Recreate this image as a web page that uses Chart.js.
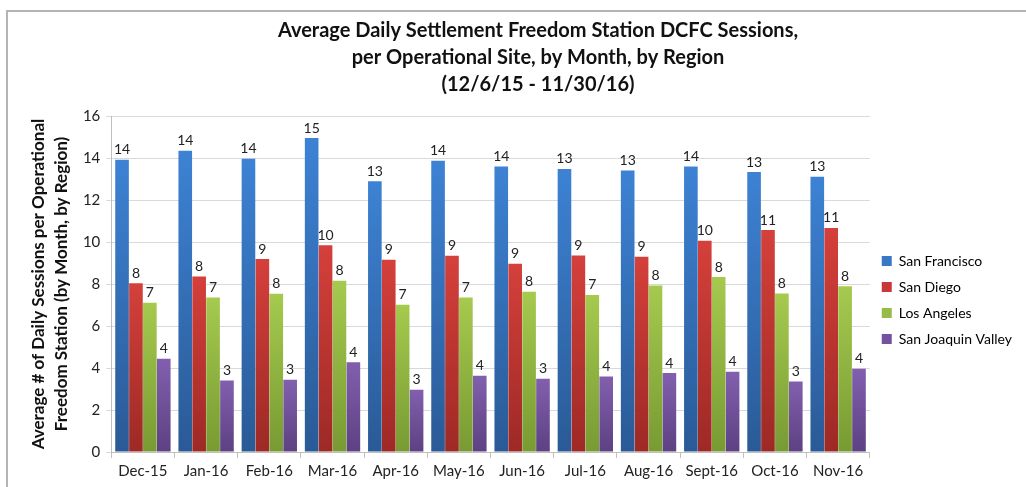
<!DOCTYPE html>
<html>
<head>
<meta charset="utf-8">
<script src="https://cdn.jsdelivr.net/npm/chart.js@4"></script>
<style>
  body { margin: 0; background: #fff; }
  #wrap { position: relative; width: 1026px; height: 487px; }
  #frame { position: absolute; left: 6px; top: 10px; right: -4px; bottom: -4px;
           border-top: 2px solid #b4b4b4; border-left: 2px solid #b4b4b4; }
  canvas { position: absolute; left: 0; top: 0; }
</style>
</head>
<body>
<div id="wrap">
  <div id="frame"></div>
  <canvas id="myChart" width="1026" height="487"></canvas>
</div>
<script>
var months = ["Dec-15", "Jan-16", "Feb-16", "Mar-16", "Apr-16", "May-16", "Jun-16", "Jul-16", "Aug-16", "Sept-16", "Oct-16", "Nov-16"];
var sanFrancisco = [13.92, 14.35, 13.97, 14.95, 12.89, 13.87, 13.6, 13.48, 13.41, 13.6, 13.33, 13.11];
var sanDiego = [8.03, 8.36, 9.19, 9.84, 9.16, 9.35, 8.97, 9.36, 9.3, 10.06, 10.57, 10.67];
var losAngeles = [7.11, 7.36, 7.54, 8.16, 7.01, 7.36, 7.63, 7.48, 7.93, 8.33, 7.55, 7.89];
var sanJoaquin = [4.44, 3.41, 3.44, 4.27, 2.97, 3.63, 3.49, 3.59, 3.76, 3.82, 3.36, 3.97];
var titleLines = [
  "Average Daily Settlement Freedom Station DCFC Sessions,",
  "per Operational Site, by Month, by Region",
  "(12/6/15 - 11/30/16)"
];

var FONT = "Lato, 'Open Sans', sans-serif";

// per-bar vertical gradient, lighter at the top
function barGradient(top, bottom) {
  return function (context) {
    var chart = context.chart;
    if (!chart.chartArea || context.raw == null) return top;
    var y = chart.scales.y;
    var y0 = y.getPixelForValue(context.raw);
    var y1 = y.getPixelForValue(0);
    var g = chart.ctx.createLinearGradient(0, y0, 0, y1);
    g.addColorStop(0, top);
    g.addColorStop(1, bottom);
    return g;
  };
}

// value labels on top of each bar
var valueLabels = {
  id: "valueLabels",
  afterDatasetsDraw: function (chart) {
    var ctx = chart.ctx;
    ctx.save();
    ctx.font = "14px " + FONT;
    ctx.fillStyle = "#222";
    ctx.textAlign = "center";
    ctx.textBaseline = "bottom";
    chart.data.datasets.forEach(function (ds, i) {
      chart.getDatasetMeta(i).data.forEach(function (bar, j) {
        ctx.fillText(Math.round(ds.data[j]), bar.x, bar.y - 3);
      });
    });
    ctx.restore();
  }
};

// chart title, centred like the original
var chartTitle = {
  id: "chartTitle",
  afterDraw: function (chart) {
    var ctx = chart.ctx;
    ctx.save();
    ctx.font = "bold 20px " + FONT;
    ctx.fillStyle = "#111";
    ctx.textAlign = "center";
    ctx.textBaseline = "middle";
    titleLines.forEach(function (line, i) {
      ctx.fillText(line, 538, 31 + i * 27);
    });
    ctx.restore();
  }
};

var ctx = document.getElementById("myChart").getContext("2d");
var myChart = new Chart(ctx, {
  type: "bar",
  data: {
    labels: months,
    datasets: [
      { label: "San Francisco", data: sanFrancisco, backgroundColor: barGradient("#3d82d4", "#2a5a96"), legendColor: "#3a78c6" },
      { label: "San Diego", data: sanDiego, backgroundColor: barGradient("#d5403b", "#9d2925"), legendColor: "#c8383a" },
      { label: "Los Angeles", data: losAngeles, backgroundColor: barGradient("#a5ca4e", "#789a33"), legendColor: "#96bb47" },
      { label: "San Joaquin Valley", data: sanJoaquin, backgroundColor: barGradient("#815fae", "#5d4182"), legendColor: "#7552a0" }
    ]
  },
  options: {
    responsive: false,
    animation: false,
    layout: { padding: { top: 116, left: 27, right: 4, bottom: 3 } },
    datasets: {
      bar: { categoryPercentage: 0.88, barPercentage: 0.98 }
    },
    plugins: {
      title: { display: false },
      tooltip: { enabled: false },
      legend: {
        position: "right",
        labels: {
          font: { family: FONT, size: 14 },
          color: "#222",
          boxWidth: 10,
          boxHeight: 10,
          padding: 12,
          generateLabels: function (chart) {
            return chart.data.datasets.map(function (ds, i) {
              return {
                text: ds.label,
                fillStyle: ds.legendColor,
                strokeStyle: ds.legendColor,
                lineWidth: 0,
                datasetIndex: i
              };
            });
          }
        }
      }
    },
    scales: {
      x: {
        grid: { drawOnChartArea: false, drawTicks: true, tickLength: 6, color: "#bfbfbf", offset: true },
        border: { color: "#bfbfbf" },
        ticks: { font: { family: FONT, size: 15 }, color: "#222", padding: 4 }
      },
      y: {
        min: 0,
        max: 16,
        ticks: { stepSize: 2, font: { family: FONT, size: 15 }, color: "#222", padding: 6 },
        grid: { color: "#d9d9d9", tickLength: 5 },
        border: { color: "#bfbfbf" },
        title: {
          display: true,
          text: ["Average # of Daily Sessions per Operational", "Freedom Station (by Month, by Region)"],
          font: { family: FONT, size: 17, weight: "bold", lineHeight: 1.35 },
          color: "#111",
          padding: { top: 0, bottom: 4 }
        }
      }
    }
  },
  plugins: [valueLabels, chartTitle]
});
</script>
</body>
</html>
